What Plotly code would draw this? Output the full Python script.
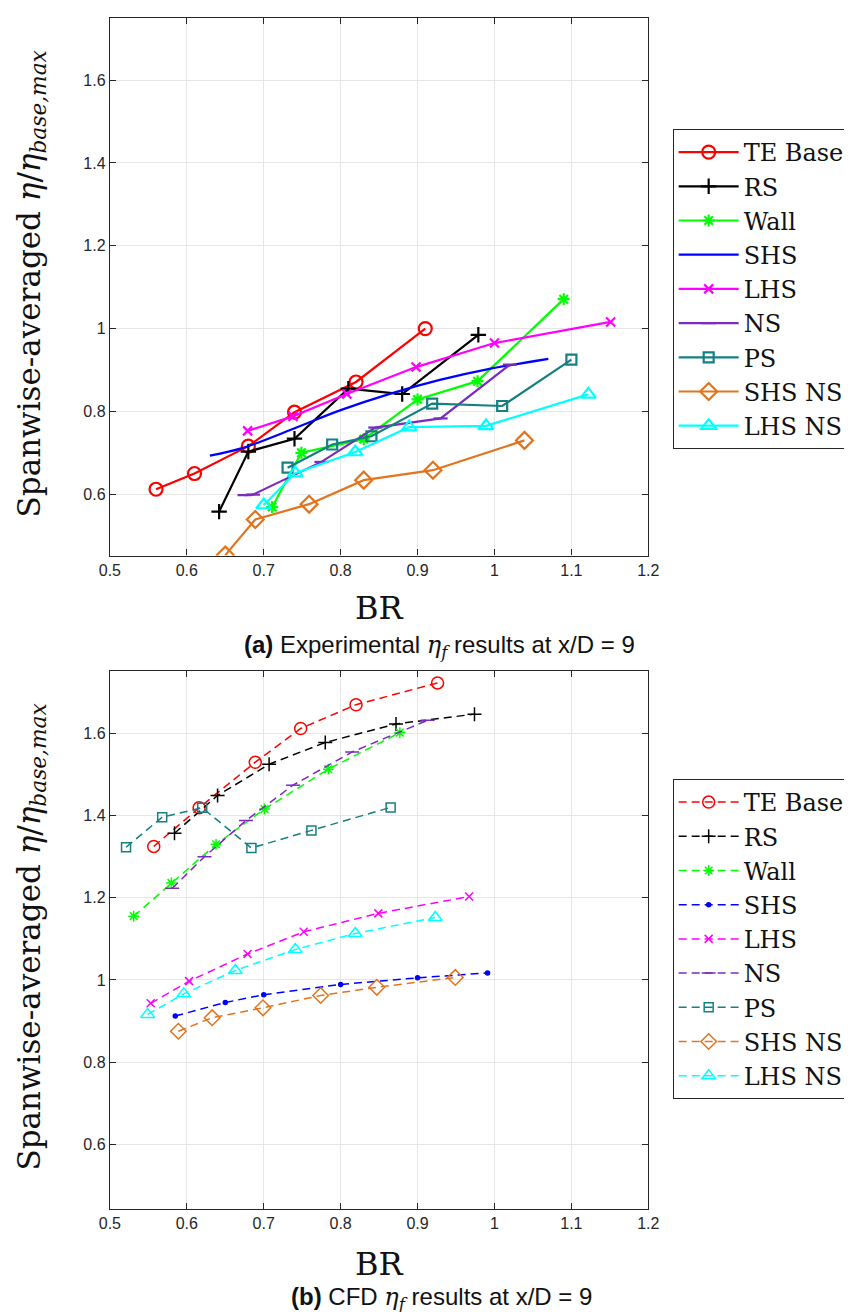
import plotly.graph_objects as go

# ---------------- data: (a) experimental ----------------
names = ["TE Base", "RS", "Wall", "SHS", "LHS", "NS", "PS", "SHS NS", "LHS NS"]

a_te_x = [0.56, 0.61, 0.68, 0.74, 0.82, 0.91]
a_te_y = [0.612, 0.65, 0.716, 0.798, 0.871, 1.0]
a_rs_x = [0.642, 0.68, 0.74, 0.81, 0.88, 0.979]
a_rs_y = [0.558, 0.703, 0.734, 0.855, 0.842, 0.985]
a_wall_x = [0.711, 0.749, 0.83, 0.90, 0.978, 1.09]
a_wall_y = [0.569, 0.70, 0.733, 0.829, 0.873, 1.071]
a_shs_x = [0.63, 0.673, 0.737, 0.80, 0.865, 0.929, 0.992, 1.07]
a_shs_y = [0.693, 0.712, 0.757, 0.803, 0.843, 0.876, 0.902, 0.927]
a_lhs_x = [0.679, 0.738, 0.808, 0.898, 1.0, 1.151]
a_lhs_y = [0.753, 0.788, 0.842, 0.907, 0.965, 1.016]
a_ns_x = [0.675, 0.686, 0.775, 0.845, 0.93, 1.02]
a_ns_y = [0.598, 0.599, 0.678, 0.761, 0.783, 0.913]
a_ps_x = [0.731, 0.789, 0.84, 0.919, 1.01, 1.10]
a_ps_y = [0.664, 0.72, 0.74, 0.819, 0.813, 0.925]
a_shsns_x = [0.65, 0.689, 0.759, 0.83, 0.92, 1.039]
a_shsns_y = [0.453, 0.539, 0.576, 0.634, 0.658, 0.73]
a_lhsns_x = [0.70, 0.741, 0.819, 0.889, 0.989, 1.122]
a_lhsns_y = [0.574, 0.651, 0.702, 0.762, 0.765, 0.841]

# ---------------- data: (b) CFD ----------------
b_te_x = [0.557, 0.616, 0.689, 0.748, 0.82, 0.926]
b_te_y = [1.325, 1.419, 1.53, 1.612, 1.67, 1.723]
b_rs_x = [0.584, 0.64, 0.707, 0.78, 0.872, 0.974]
b_rs_y = [1.357, 1.449, 1.525, 1.578, 1.623, 1.647]
b_wall_x = [0.531, 0.58, 0.638, 0.701, 0.784, 0.877]
b_wall_y = [1.155, 1.236, 1.33, 1.416, 1.513, 1.602]
b_shs_x = [0.585, 0.65, 0.70, 0.80, 0.90, 0.991]
b_shs_y = [0.912, 0.945, 0.964, 0.989, 1.005, 1.017]
b_lhs_x = [0.553, 0.603, 0.679, 0.752, 0.849, 0.967]
b_lhs_y = [0.943, 0.997, 1.063, 1.117, 1.162, 1.203]
b_ns_x = [0.581, 0.623, 0.677, 0.738, 0.815, 0.913]
b_ns_y = [1.223, 1.30, 1.388, 1.474, 1.555, 1.632]
b_ps_x = [0.521, 0.568, 0.62, 0.684, 0.762, 0.865]
b_ps_y = [1.323, 1.396, 1.419, 1.321, 1.364, 1.42]
b_shsns_x = [0.589, 0.633, 0.699, 0.774, 0.847, 0.949]
b_shsns_y = [0.875, 0.908, 0.932, 0.962, 0.982, 1.006]
b_lhsns_x = [0.549, 0.596, 0.663, 0.741, 0.819, 0.923]
b_lhsns_y = [0.916, 0.966, 1.023, 1.074, 1.113, 1.152]

x_ticks = [0.5, 0.6, 0.7, 0.8, 0.9, 1.0, 1.1, 1.2]
x_ticktext = ["0.5", "0.6", "0.7", "0.8", "0.9", "1", "1.1", "1.2"]
y_ticks = [0.6, 0.8, 1.0, 1.2, 1.4, 1.6]
y_ticktext = ["0.6", "0.8", "1", "1.2", "1.4", "1.6"]

# ---------------- styles ----------------
colors = ["#FF0000", "#000000", "#00FF00", "#0000FF", "#FF00FF",
          "#7B2CBF", "#148080", "#E2741E", "#00FFFF"]
symbols = ["circle-open", "cross-thin-open", "asterisk-open", None, "x-thin-open",
           "line-ew-open", "square-open", "diamond-open", "triangle-up-open"]
sizes_a = [13, 11, 10, 0, 9, 10, 10, 13, 13]
sizes_b = [12, 10, 9, 4, 8, 10, 9, 12, 12]

series_a = [(a_te_x, a_te_y), (a_rs_x, a_rs_y), (a_wall_x, a_wall_y),
            (a_shs_x, a_shs_y), (a_lhs_x, a_lhs_y), (a_ns_x, a_ns_y),
            (a_ps_x, a_ps_y), (a_shsns_x, a_shsns_y), (a_lhsns_x, a_lhsns_y)]
series_b = [(b_te_x, b_te_y), (b_rs_x, b_rs_y), (b_wall_x, b_wall_y),
            (b_shs_x, b_shs_y), (b_lhs_x, b_lhs_y), (b_ns_x, b_ns_y),
            (b_ps_x, b_ps_y), (b_shsns_x, b_shsns_y), (b_lhsns_x, b_lhsns_y)]

fig = go.Figure()

for i, (xs, ys) in enumerate(series_a):
    if symbols[i] is None:
        fig.add_trace(go.Scatter(x=xs, y=ys, mode="lines", name=names[i],
                                 line=dict(color=colors[i], width=2.2, shape="spline"),
                                 xaxis="x", yaxis="y", legend="legend"))
    else:
        fig.add_trace(go.Scatter(x=xs, y=ys, mode="lines+markers", name=names[i],
                                 line=dict(color=colors[i], width=2.2),
                                 marker=dict(symbol=symbols[i], size=sizes_a[i],
                                             color=colors[i],
                                             line=dict(color=colors[i], width=2.2)),
                                 xaxis="x", yaxis="y", legend="legend"))

for i, (xs, ys) in enumerate(series_b):
    sym = symbols[i] if symbols[i] is not None else "circle"
    fig.add_trace(go.Scatter(x=xs, y=ys, mode="lines+markers", name=names[i],
                             line=dict(color=colors[i], width=1.5, dash="8px,5px"),
                             marker=dict(symbol=sym, size=sizes_b[i],
                                         color=colors[i],
                                         line=dict(color=colors[i], width=1.5)),
                             xaxis="x2", yaxis="y2", legend="legend2"))

W, H = 852, 1312
px_l, px_r = 93.3, 646.0
top_a, bot_a = 10.0, 547.5
top_b, bot_b = 663.0, 1200.7

def py(v):
    return 1 - v / H

SERIF = "DejaVu Serif, Liberation Serif, serif"

axis_common = dict(showline=True, linewidth=1.3, linecolor="#262626", mirror="ticks",
                   ticks="inside", ticklen=6, tickwidth=1, tickcolor="#262626",
                   showgrid=True, gridcolor="#E6E6E6", gridwidth=1, zeroline=False,
                   tickfont=dict(family="Liberation Sans", size=16, color="#262626"))

legend_common = dict(xanchor="left", yanchor="top",
                     bordercolor="#262626", borderwidth=1, bgcolor="white",
                     font=dict(family=SERIF, size=24, color="#111111"),
                     itemwidth=60, tracegroupgap=0)

fig.update_layout(
    width=W, height=H,
    margin=dict(l=0, r=0, t=0, b=0),
    paper_bgcolor="white", plot_bgcolor="white",
    xaxis=dict(domain=[px_l / W, px_r / W], range=[0.5, 1.2], anchor="y",
               tickvals=x_ticks, ticktext=x_ticktext, **axis_common),
    yaxis=dict(domain=[py(bot_a), py(top_a)], range=[0.452, 1.75], anchor="x",
               tickvals=y_ticks, ticktext=y_ticktext, **axis_common),
    xaxis2=dict(domain=[px_l / W, px_r / W], range=[0.5, 1.2], anchor="y2",
                tickvals=x_ticks, ticktext=x_ticktext, **axis_common),
    yaxis2=dict(domain=[py(bot_b), py(top_b)], range=[0.443, 1.752], anchor="x2",
                tickvals=y_ticks, ticktext=y_ticktext, **axis_common),
    legend=dict(x=671 / W, y=py(121), **legend_common),
    legend2=dict(x=671 / W, y=py(771), **legend_common),
    showlegend=True,
)

ylabel = "Spanwise-averaged <i>η</i>/<i>η</i><sub><i>base,max</i></sub>"
label_font = dict(family=SERIF, size=31, color="#111111")
cap_font = dict(family="Liberation Sans", size=24, color="#111111")

annotations = [
    dict(text=ylabel, x=13 / W, y=py((top_a + bot_a) / 2 - 3), xref="paper", yref="paper",
         textangle=-90, showarrow=False, font=label_font, xanchor="center", yanchor="middle"),
    dict(text=ylabel, x=13 / W, y=py((top_b + bot_b) / 2 - 3), xref="paper", yref="paper",
         textangle=-90, showarrow=False, font=label_font, xanchor="center", yanchor="middle"),
    dict(text="BR", x=(px_l + px_r) / 2 / W, y=py(600), xref="paper", yref="paper",
         showarrow=False, font=dict(family=SERIF, size=32, color="#111111"),
         xanchor="center", yanchor="middle"),
    dict(text="BR", x=(px_l + px_r) / 2 / W, y=py(1256), xref="paper", yref="paper",
         showarrow=False, font=dict(family=SERIF, size=32, color="#111111"),
         xanchor="center", yanchor="middle"),
    dict(text='<b>(a)</b> Experimental <span style="font-family:DejaVu Serif"><i>η</i><sub><i>f</i></sub></span> results at x/D = 9',
         x=432 / W, y=py(638), xref="paper", yref="paper", showarrow=False,
         font=cap_font, xanchor="center", yanchor="middle"),
    dict(text='<b>(b)</b> CFD <span style="font-family:DejaVu Serif"><i>η</i><sub><i>f</i></sub></span> results at x/D = 9',
         x=434 / W, y=py(1290), xref="paper", yref="paper", showarrow=False,
         font=cap_font, xanchor="center", yanchor="middle"),
]
fig.update_layout(annotations=annotations)

fig.write_html("out.html")
